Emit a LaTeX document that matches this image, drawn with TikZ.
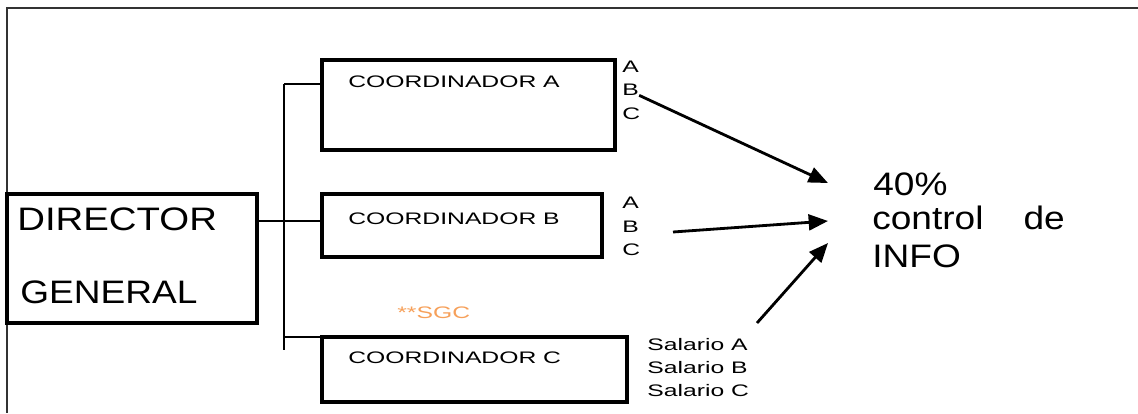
\documentclass[tikz,border=0pt]{standalone}
\usepackage{fontspec}
\setmainfont{Liberation Sans}
\usetikzlibrary{arrows.meta,calc}
\definecolor{sgcorange}{RGB}{246,160,90}
\tikzstyle{cbox}=[draw,rectangle,line width=1.8pt,inner sep=0pt,outer sep=0pt,anchor=north west]
\tikzstyle{conn}=[draw,line width=1.5pt]
\tikzstyle{arrowconn}=[draw,line width=1.6pt,-{Triangle[length=11pt,width=9pt]}]
\tikzstyle{small}=[font=\fontsize{9.5}{11}\selectfont,inner sep=0pt,anchor=base west]
\tikzstyle{big}=[font=\fontsize{18.5}{22}\selectfont,inner sep=0pt,anchor=base west]
\newcommand{\wsmall}[1]{\scalebox{1.48}[1]{#1}}
\newcommand{\wbig}[1]{\scalebox{1.14}[1]{#1}}

\begin{document}
\begin{tikzpicture}[x=0.02cm,y=-0.02cm]
    \useasboundingbox (0,0) rectangle (1138,413);

    % frame
    \draw[line width=1.4pt,black!80] (1138,8) -- (7,8) -- (7,413);

    % boxes
    \foreach \pos/ \name/ \w/ \h in {{(7,194)/dir/5cm/2.58cm},{(322,60)/coordA/5.86cm/1.8cm},{(322,194)/coordB/5.6cm/1.26cm},{(322,337)/coordC/6.1cm/1.3cm}}
        \node[cbox,minimum width=\w,minimum height=\h] (\name) at \pos {};

    \node[big] (dirtxt1) at (17,230) {\scalebox{1.18}[1]{DIRECTOR}};
    \node[big] (dirtxt2) at (20,303) {\wbig{GENERAL}};

    \foreach \y/ \name/ \t in {87/txtA/A,224/txtB/B,363/txtC/C}
        \node[small] (\name) at (348,\y) {\wsmall{COORDINADOR \t}};

    % letter lists
    \foreach \y/ \name/ \t in {72/la1/A,95/la2/B,119/la3/C,208/lb1/A,232/lb2/B,255/lb3/C}
        \node[small] (\name) at (622,\y) {\wsmall{\t}};

    \foreach \y/ \name/ \t in {350/sal1/A,373/sal2/B,396/sal3/C}
        \node[small] (\name) at (647,\y) {\wsmall{Salario \t}};

    \node[small,text=sgcorange] (sgc) at (397,318) {\wsmall{**SGC}};

    \node[big] (info1) at (873,195) {\wbig{40\%}};
    \node[big] (info2) at (872,229) {\wbig{control\hspace{20pt}de}};
    \node[big] (info3) at (872,267) {\wbig{INFO}};

    % tree lines
    \coordinate (trunkTop) at (284,84);
    \coordinate (trunkBot) at (284,350);
    \coordinate (junB) at (284,221);
    \path[conn] (trunkTop) -- (trunkBot);
    \path[conn] (trunkTop) -- (trunkTop -| coordA.west);
    \path[conn] (dir.east |- junB) -- (coordB.west |- junB);
    \path[conn] (trunkTop |- coordC.north) -- (coordC.north west);

    % arrows to info
    \coordinate (tipA) at (828,183);
    \coordinate (tipB) at (828,221);
    \coordinate (tipC) at (828,243);
    \coordinate (tailB) at (673,232);
    \coordinate (tailC) at (757,323);
    \path[arrowconn] (la2.south east) -- (tipA);
    \path[arrowconn] (tailB) -- (tipB);
    \path[arrowconn] (tailC) -- (tipC);

\end{tikzpicture}
\end{document}
